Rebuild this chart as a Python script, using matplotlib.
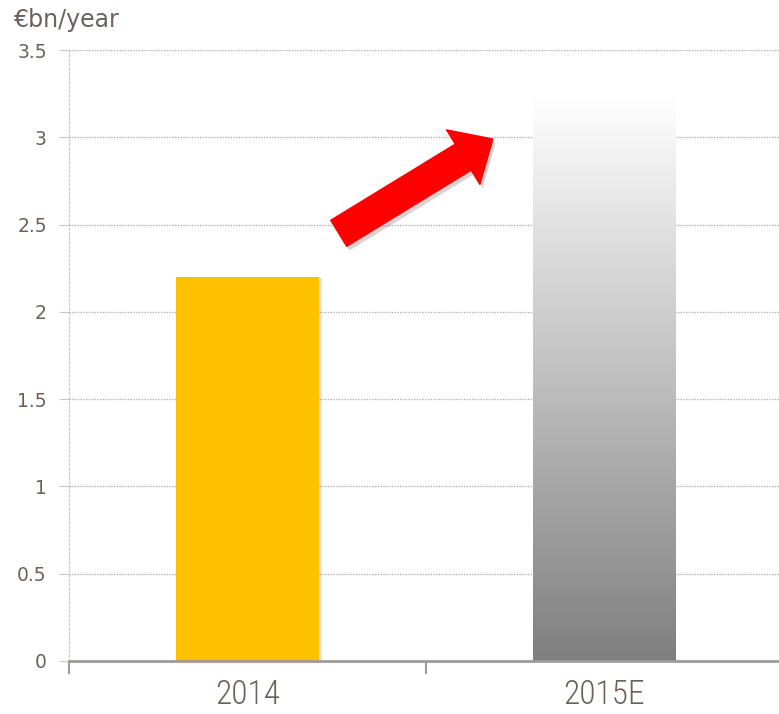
import matplotlib.pyplot as plt
import matplotlib.patheffects as pe
from matplotlib import font_manager
import numpy as np

categories = ['2014', '2015E']
values = [2.2, 3.24]
yticks = [0, 0.5, 1, 1.5, 2, 2.5, 3, 3.5]
ytick_labels = ['0', '0.5', '1', '1.5', '2', '2.5', '3', '3.5']
arrow_from = (0.256, 2.45)   # arrow tail, data coords
arrow_to = (0.688, 2.99)     # arrow tip

text_col = '#6b625d'
installed = {f.name for f in font_manager.fontManager.ttflist}
narrow = [f for f in ['Liberation Sans Narrow', 'DejaVu Sans Condensed', 'Roboto Condensed'] if f in installed]
narrow = narrow + ['DejaVu Sans']

fig = plt.figure(figsize=(7.79, 7.14), dpi=100)
ax = fig.add_axes([69/779, 53/714, 1 - 69/779, 611/714])

x = np.arange(len(categories))
bars = ax.bar(x, values, width=0.4, color=['#FFC000', 'none'], zorder=2)
bars[0].set_path_effects([pe.SimplePatchShadow(offset=(2, -1), alpha=0.15), pe.Normal()])

# gradient fill for the estimate bar
b = bars[1]
x0, w, h = b.get_x(), b.get_width(), b.get_height()
grad = np.linspace(0, 1, 256).reshape(-1, 1)
im = ax.imshow(grad, extent=[x0, x0 + w, 0, h], origin='upper',
               cmap=plt.matplotlib.colors.LinearSegmentedColormap.from_list('g', ['#ffffff', '#7f7f7f']),
               aspect='auto', zorder=2)
im.set_clip_path(b)

ax.set_xlim(-0.5, 1.49)
ax.set_ylim(0, 3.5)

ax.set_yticks(yticks)
ax.set_yticklabels(ytick_labels, fontsize=13.5, color=text_col)
ax.yaxis.grid(True, linestyle=(0, (1, 1)), color='#b0b0b0', linewidth=1, zorder=0)
ax.set_axisbelow(True)
ax.tick_params(axis='y', length=7, color='#c8c8c8', pad=9)

ax.set_xticks([-0.5, 0.5])
ax.set_xticklabels([])
ax.set_xticks(x, minor=True)
ax.set_xticklabels(categories, minor=True, fontsize=24, color=text_col,
                   family=narrow, fontstretch='condensed', fontweight='light')
ax.tick_params(axis='x', which='major', length=9, width=1.5, color='#a09a98', direction='out')
ax.tick_params(axis='x', which='minor', length=0, pad=13)

for s in ['top', 'right']:
    ax.spines[s].set_visible(False)
ax.spines['left'].set_linestyle((0, (2, 2)))
ax.spines['left'].set_color('#c8c8c8')
ax.spines['bottom'].set_color('#a09a98')
ax.spines['bottom'].set_linewidth(2)

ax.annotate('', xy=arrow_to, xytext=arrow_from,
            arrowprops=dict(arrowstyle='simple,head_width=4.6,head_length=2.5,tail_width=2.2',
                            mutation_scale=10, color='#ff0000', shrinkA=0, shrinkB=0,
                            path_effects=[pe.SimplePatchShadow(offset=(2, -3), alpha=0.18), pe.Normal()]),
            zorder=5)

fig.text(14/779, 1 - 20/714, '€bn/year', fontsize=17, color=text_col, va='center', ha='left')

fig.savefig('out.png', dpi=100)
